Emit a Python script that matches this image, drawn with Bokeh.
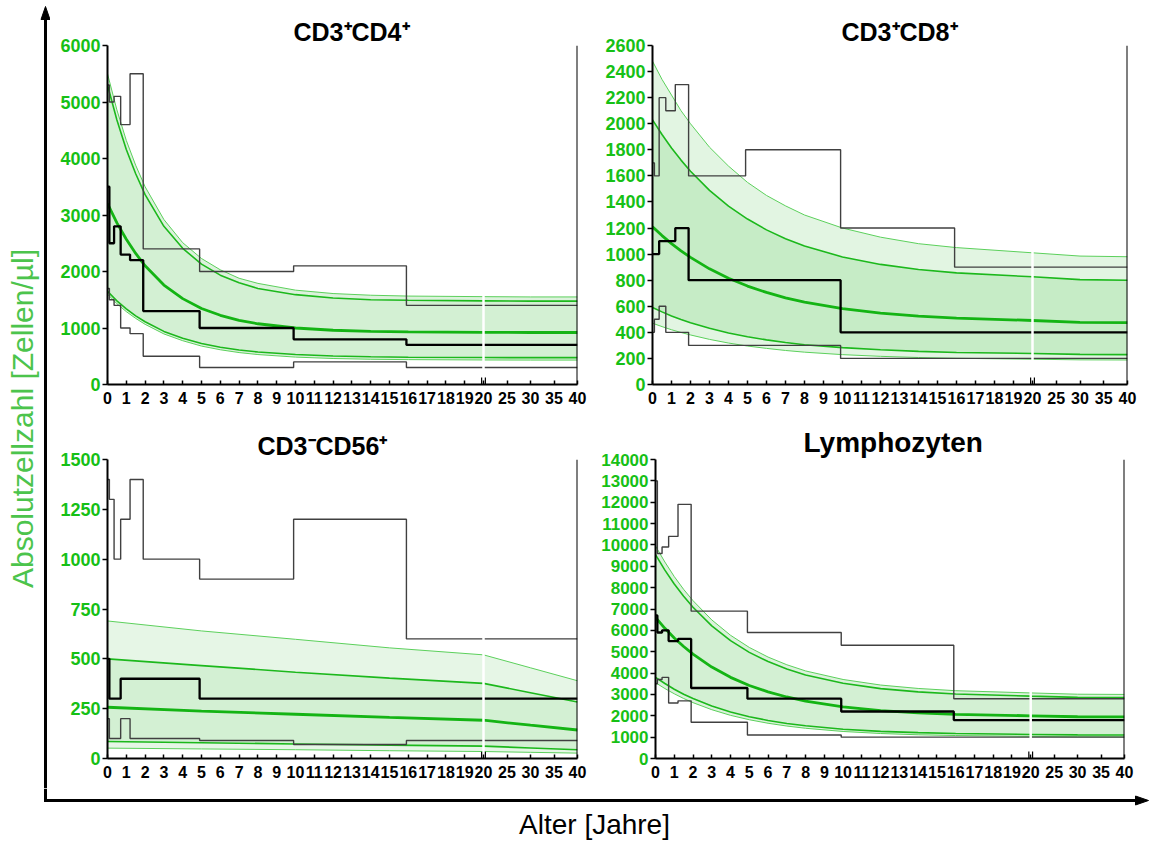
import math
from bokeh.plotting import figure
from bokeh.models import Range1d, FixedTicker, Span
from bokeh.layouts import row, column
from bokeh.embed import file_html
from bokeh.resources import INLINE
from bokeh.core.properties import value

FONT = "Liberation Sans"

# ---------------- data ----------------
TICK_AGES = list(range(0, 21)) + [25, 30, 35, 40]
TICK_LABELS = [str(a) for a in TICK_AGES]

GROUP_EDGES = [0, 0.1, 0.35, 0.7, 1.2, 1.9, 4.9, 9.9, 15.9, 40]

CURVE_AGES = [0, 0.5, 1, 1.5, 2, 3, 4, 5, 6, 7, 8, 10, 12, 14, 16, 20, 30, 40]
CURVE_AGES_NK = [0, 5, 10, 15, 20, 30, 40]

# CD3+CD4+
CD4_C97 = [5500, 4860, 4320, 3880, 3500, 2920, 2510, 2230, 2030, 1880, 1790, 1670, 1610, 1580, 1565, 1555, 1550, 1550]
CD4_C90 = [5300, 4680, 4160, 3730, 3360, 2800, 2410, 2130, 1935, 1800, 1700, 1590, 1530, 1500, 1490, 1480, 1475, 1475]
CD4_C50 = [3200, 2860, 2570, 2320, 2100, 1760, 1520, 1345, 1225, 1135, 1075, 1000, 960, 940, 930, 923, 920, 920]
CD4_C10 = [1650, 1480, 1340, 1215, 1110, 940, 820, 727, 660, 610, 575, 530, 505, 490, 483, 477, 475, 475]
CD4_C3 = [1600, 1430, 1290, 1170, 1065, 895, 775, 680, 615, 565, 530, 485, 460, 447, 440, 434, 432, 432]
CD4_P95 = [5300, 5000, 5100, 4600, 5500, 2400, 2000, 2100, 1400]
CD4_P50 = [3500, 2500, 2800, 2300, 2200, 1300, 1000, 800, 700]
CD4_P5 = [1700, 1500, 1400, 1000, 900, 500, 300, 400, 300]

# CD3+CD8+
CD8_C97 = [2480, 2340, 2220, 2100, 2000, 1820, 1675, 1550, 1450, 1370, 1300, 1200, 1130, 1080, 1050, 1010, 985, 980]
CD8_C90 = [2030, 1917, 1814, 1721, 1636, 1489, 1368, 1269, 1186, 1118, 1063, 978, 921, 882, 856, 826, 804, 800]
CD8_C50 = [1210, 1142, 1081, 1025, 975, 887, 815, 755, 706, 665, 632, 582, 547, 524, 509, 491, 477, 475]
CD8_C10 = [590, 557, 526, 499, 474, 431, 395, 366, 342, 322, 305, 283, 266, 254, 246, 238, 231, 229]
CD8_C3 = [470, 444, 420, 399, 380, 346, 318, 295, 277, 261, 248, 229, 216, 207, 201, 194, 189, 188]
CD8_P95 = [1700, 1600, 2200, 2100, 2300, 1600, 1800, 1200, 900]
CD8_P50 = [1000, 1000, 1100, 1100, 1200, 800, 800, 400, 400]
CD8_P5 = [400, 500, 600, 400, 400, 300, 300, 200, 200]

# CD3-CD56+
NK_C97 = [690, 640, 598, 555, 520, 455, 390]
NK_C90 = [500, 466, 433, 403, 377, 330, 283]
NK_C50 = [257, 238, 222, 206, 192, 167, 143]
NK_C10 = [85, 79, 73, 67, 62, 53, 44]
NK_C3 = [52, 48, 44, 39, 35, 31, 27]
NK_P95 = [1400, 1300, 1000, 1200, 1400, 1000, 900, 1200, 600]
NK_P50 = [500, 300, 300, 400, 400, 400, 300, 300, 300]
NK_P5 = [200, 100, 100, 200, 100, 100, 90, 70, 90]

# Lymphozyten
LY_C97 = [9950, 9200, 8520, 7920, 7390, 6490, 5770, 5200, 4750, 4390, 4100, 3700, 3440, 3280, 3175, 3070, 3010, 3000]
LY_C90 = [9550, 8820, 8170, 7600, 7080, 6210, 5520, 4970, 4540, 4190, 3910, 3520, 3270, 3120, 3020, 2920, 2860, 2850]
LY_C50 = [6600, 6095, 5645, 5245, 4885, 4280, 3800, 3420, 3120, 2880, 2690, 2415, 2245, 2135, 2065, 2000, 1955, 1950]
LY_C10 = [3800, 3510, 3245, 3010, 2805, 2455, 2175, 1955, 1780, 1640, 1530, 1370, 1270, 1210, 1170, 1125, 1105, 1100]
LY_C3 = [3550, 3275, 3030, 2810, 2615, 2285, 2020, 1815, 1650, 1520, 1415, 1265, 1170, 1110, 1075, 1035, 1015, 1010]
LY_P95 = [13000, 9600, 9900, 10400, 11900, 6900, 5900, 5300, 2800]
LY_P50 = [6700, 5900, 6000, 5500, 5600, 3300, 2800, 2200, 1800]
LY_P5 = [3500, 3700, 3800, 2600, 2700, 1700, 1100, 1000, 1000]

# ---------------- styles ----------------
GREEN_TXT = "#16c016"
YLAB_COLOR = "#4cc44c"
LINE_MED = "#14b414"
LINE_IN = "#1cb81c"
LINE_OUT = "#5cd05c"
STEP_THIN = "#404040"


def tx(a):
    """segmented age axis: 0-20 linear, 20-40 compressed 4x"""
    return a if a <= 20 else 20 + (a - 20) / 4.0


def panel(title, tfs, toff, tstand, ymax, ystep, yfs, ages, c97, c90, c50, c10, c3,
          p95, p50, p5, fill_out, fill_in, w, h, bl, br, bt, bb):
    p = figure(width=w, height=h, x_range=Range1d(0, 25), y_range=Range1d(0, ymax),
               output_backend="svg", toolbar_location=None, title=title,
               min_border_left=bl, min_border_right=br,
               min_border_top=bt, min_border_bottom=bb)
    p.outline_line_color = None
    p.xgrid.visible = False
    p.ygrid.visible = False
    p.background_fill_color = "white"
    p.border_fill_color = "white"

    xs = [tx(a) for a in ages]
    p.varea(x=xs, y1=c3, y2=c97, fill_color=fill_out)
    p.varea(x=xs, y1=c10, y2=c90, fill_color=fill_in)
    for ys, col, lw in ((c97, LINE_OUT, 1.0), (c3, LINE_OUT, 1.0),
                        (c90, LINE_IN, 1.6), (c10, LINE_IN, 1.6),
                        (c50, LINE_MED, 2.8)):
        p.line(xs, ys, line_color=col, line_width=lw)

    ex = [tx(a) for a in GROUP_EDGES]
    for vals, col, lw in ((p95, STEP_THIN, 1.4), (p5, STEP_THIN, 1.4), (p50, "black", 2.3)):
        p.step(ex, list(vals) + [vals[-1]], mode="after", line_color=col, line_width=lw)

    # white break at 20 years
    i20 = ages.index(20)
    at20 = [c97[i20], c3[i20], p95[-1], p5[-1], p50[-1]]
    pad = ymax * 0.012
    p.segment(x0=[20], y0=[min(at20) - pad], x1=[20], y1=[max(at20) + pad],
              line_color="white", line_width=2.5)
    fh = h - bt - bb
    mark = ymax * 7.0 / fh
    p.segment(x0=[19.9, 20.1], y0=[0, 0], x1=[19.9, 20.1], y1=[mark, mark],
              line_color="black", line_width=1.2)

    p.add_layout(Span(location=25, dimension="height", line_color="black", line_width=2))

    xa = p.xaxis[0]
    xa.ticker = FixedTicker(ticks=[tx(a) for a in TICK_AGES])
    xa.major_label_overrides = {tx(a): lab for a, lab in zip(TICK_AGES, TICK_LABELS)}
    xa.axis_line_width = 2
    xa.axis_line_color = "black"
    xa.major_tick_in = 4
    xa.major_tick_out = 0
    xa.major_tick_line_width = 1.5
    xa.minor_tick_line_color = None
    xa.major_label_text_font = FONT
    xa.major_label_text_font_style = "bold"
    xa.major_label_text_font_size = "16px"
    xa.major_label_text_color = "black"
    xa.major_label_standoff = 7

    ya = p.yaxis[0]
    ya.ticker = FixedTicker(ticks=list(range(0, ymax + 1, ystep)))
    ya.axis_line_width = 2
    ya.axis_line_color = "black"
    ya.major_tick_in = 0
    ya.major_tick_out = 5
    ya.major_tick_line_width = 1.5
    ya.minor_tick_line_color = None
    ya.major_label_text_font = FONT
    ya.major_label_text_font_style = "bold"
    ya.major_label_text_font_size = yfs
    ya.major_label_text_color = GREEN_TXT
    ya.major_label_standoff = 2

    p.title.text_font = FONT
    p.title.text_font_style = "bold"
    p.title.text_font_size = tfs
    p.title.text_color = "black"
    p.title.align = "left"
    p.title.offset = toff
    p.title.standoff = tstand
    p.title.vertical_align = "bottom"
    return p


p1 = panel("CD3\u207aCD4\u207a", "25px", 186, 0, 6000, 1000, "18px", CURVE_AGES,
           CD4_C97, CD4_C90, CD4_C50, CD4_C10, CD4_C3, CD4_P95, CD4_P50, CD4_P5,
           "#dcf2dc", "#d3f0d3", 548, 418, 57, 21, 45, 33)
p2 = panel("CD3\u207aCD8\u207a", "25px", 189, 0, 2600, 200, "18px", CURVE_AGES,
           CD8_C97, CD8_C90, CD8_C50, CD8_C10, CD8_C3, CD8_P95, CD8_P50, CD8_P5,
           "#e2f5e2", "#c6ecc6", 553, 418, 54, 24, 45, 34)
p3 = panel("CD3\u207bCD56\u207a", "25px", 150, 0, 1500, 250, "18px", CURVE_AGES_NK,
           NK_C97, NK_C90, NK_C50, NK_C10, NK_C3, NK_P95, NK_P50, NK_P5,
           "#e6f6e6", "#d3f0d3", 548, 370, 57, 21, 37, 28)
p4 = panel("Lymphozyten", "28px", 148, 4, 14000, 1000, "17px", CURVE_AGES,
           LY_C97, LY_C90, LY_C50, LY_C10, LY_C3, LY_P95, LY_P50, LY_P5,
           "#dcf2dc", "#d3f0d3", 553, 370, 56, 27, 41, 30)


def blank(w, h):
    f = figure(width=w, height=h, x_range=Range1d(0, w), y_range=Range1d(0, h),
               output_backend="svg", toolbar_location=None, title=None,
               min_border=0, x_axis_location=None, y_axis_location=None)
    f.outline_line_color = None
    f.xgrid.visible = False
    f.ygrid.visible = False
    f.background_fill_color = "white"
    f.border_fill_color = "white"
    return f


L_W, L_H = 50, 788
left = blank(L_W, L_H)
left.line([45, 45], [0, 770], line_width=3, line_color="black")
left.patch([40.5, 45, 49.5], [769, 782, 769], color="black")
left.text(x=[22], y=[370], text=["Absolutzellzahl [Zellen/\u00b5l]"], angle=math.pi / 2,
          text_align="center", text_baseline="middle", text_font=value(FONT),
          text_font_size="30px", text_color=YLAB_COLOR)

B_W, B_H = 1151, 55
bottom = blank(B_W, B_H)
bottom.line([45, 45], [55, 43], line_width=3, line_color="black")
bottom.line([43.5, 1137], [43, 43], line_width=3, line_color="black")
bottom.patch([1135, 1148, 1135], [47.5, 43, 38.5], color="black")
bottom.text(x=[594], y=[19], text=["Alter [Jahre]"], text_align="center",
            text_baseline="middle", text_font=value(FONT),
            text_font_size="28px", text_color="black")

layout = column(row(left, column(row(p1, p2), row(p3, p4))), bottom)

open("out.html", "w").write(file_html(layout, INLINE))
